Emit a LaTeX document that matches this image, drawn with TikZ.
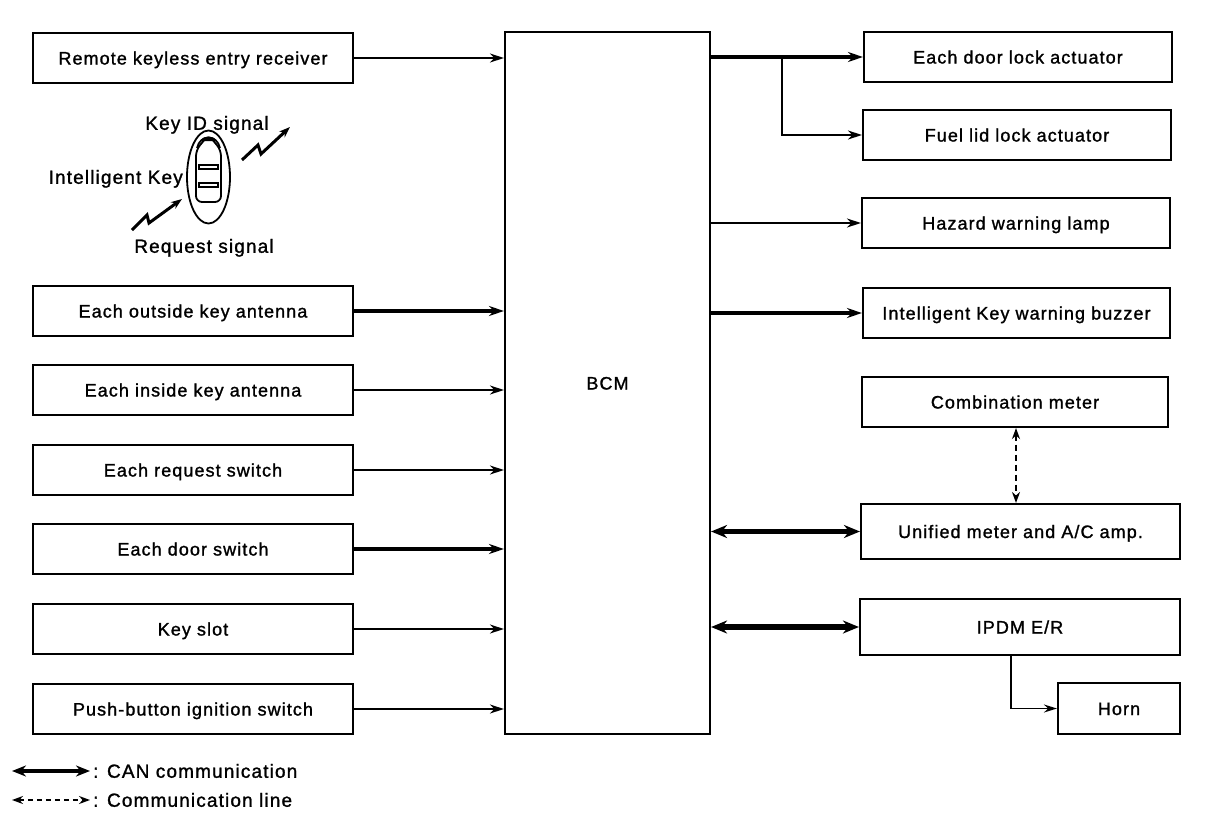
\documentclass[tikz,border=0pt]{standalone}
\usepackage{fontspec}
\setmainfont{Liberation Sans}[LetterSpace=6,FakeBold=1.3]
\usetikzlibrary{arrows.meta}
\begin{document}
\begin{tikzpicture}[x=1pt,y=-1pt,
  box/.style={draw,line width=2.1pt,minimum height=50pt,inner sep=0pt,text height=13pt,text depth=0pt,font=\fontsize{18}{20}\selectfont},
  lbox/.style={box,minimum width=320pt},
  arr/.style={line width=2pt,-{Stealth[length=14pt,width=9pt]}},
  tarr/.style={line width=3.4pt,-{Stealth[length=15pt,width=10pt]}},
  harr/.style={line width=1.3pt,-{Stealth[length=13pt,width=8pt]}},
  can/.style={line width=5.5pt,{Stealth[length=16pt,width=13pt]}-{Stealth[length=16pt,width=13pt]}},
  dasharr/.style={line width=2pt,dash pattern=on 6pt off 4pt,{Stealth[length=11pt,width=8pt]}-{Stealth[length=11pt,width=8pt]}},
  lbl/.style={font=\fontsize{19}{21}\selectfont,inner sep=0pt,text height=13.5pt,text depth=0pt}
]
\useasboundingbox (0,0) rectangle (1216,822);
% left column
\node[lbox] (rke) at (193,58) {Remote keyless entry receiver};
\node[lbox] (oka) at (193,311) {Each outside key antenna};
\node[lbox] (ika) at (193,390) {Each inside key antenna};
\node[lbox] (rsw) at (193,470) {Each request switch};
\node[lbox] (dsw) at (193,549) {Each door switch};
\node[lbox] (ksl) at (193,629) {Key slot};
\node[lbox] (pbs) at (193,709) {Push-button ignition switch};
% BCM
\node[box,minimum width=205pt,minimum height=702pt] (bcm) at (607.5,383) {BCM};
% right column
\node[box,minimum width=308pt] (dla) at (1018,57) {Each door lock actuator};
\node[box,minimum width=308pt] (fla) at (1017,135) {Fuel lid lock actuator};
\node[box,minimum width=308pt] (hwl) at (1016,223) {Hazard warning lamp};
\node[box,minimum width=307pt] (ikb) at (1016.5,313) {Intelligent Key warning buzzer};
\node[box,minimum width=306pt] (cmb) at (1015,402) {Combination meter};
\node[box,minimum width=319pt,minimum height=55pt] (umc) at (1020.5,531.5) {Unified meter and A/C amp.};
\node[box,minimum width=320pt,minimum height=56pt] (ipdm) at (1020,627) {IPDM E/R};
\node[box,minimum width=122pt,minimum height=51pt] (horn) at (1119,708.5) {Horn};
% key icon
\node[lbl] (kid) at (207,123) {Key ID signal};
\node[lbl,anchor=east] (ikey) at (183,177) {Intelligent Key};
\node[lbl] (req) at (204,246) {Request signal};
\draw[line width=1.8pt] (208.5,177) ellipse (21.5 and 46.5);
\draw[line width=1.8pt,rounded corners=6pt] (196,150) -- (196,202) -- (221,202) -- (221,150) -- (208.5,135) -- cycle;
\draw[line width=1.8pt] (197,148) .. controls (200,134) and (217,134) .. (220,148);
\fill (200,141) .. controls (204,135) and (213,135) .. (217,141) -- cycle;
\draw[line width=1.4pt] (199,165) rectangle (218,169);
\draw[line width=1.4pt] (199,183) rectangle (218,187);
\coordinate (z1a) at (242,160);
\coordinate (z1b) at (258,145);
\coordinate (z1c) at (261,154);
\coordinate (z1d) at (290,127);
\draw[line width=3pt,-{Stealth[length=11pt,width=8pt]}] (z1a) -- (z1b) -- (z1c) -- (z1d);
\coordinate (z2a) at (132,230);
\coordinate (z2b) at (147,215);
\coordinate (z2c) at (149,223);
\coordinate (z2d) at (182,199);
\draw[line width=3pt,-{Stealth[length=11pt,width=8pt]}] (z2a) -- (z2b) -- (z2c) -- (z2d);
% left connectors
\draw[arr] (rke.east) -- (bcm.west |- rke.east);
\draw[tarr] (oka.east) -- (bcm.west |- oka.east);
\draw[arr] (ika.east) -- (bcm.west |- ika.east);
\draw[arr] (rsw.east) -- (bcm.west |- rsw.east);
\draw[tarr] (dsw.east) -- (bcm.west |- dsw.east);
\draw[arr] (ksl.east) -- (bcm.west |- ksl.east);
\draw[arr] (pbs.east) -- (bcm.west |- pbs.east);
% right connectors
\draw[tarr] (bcm.east |- dla.west) -- (dla.west);
\coordinate (br) at (782,57);
\draw[arr] (br) |- (fla.west);
\draw[arr] (bcm.east |- hwl.west) -- (hwl.west);
\draw[tarr] (bcm.east |- ikb.west) -- (ikb.west);
\draw[dasharr] ([xshift=1pt]cmb.south) -- ([xshift=1pt]cmb.south |- umc.north);
\draw[can] (bcm.east |- umc.west) -- (umc.west);
\draw[can] (bcm.east |- ipdm.west) -- (ipdm.west);
\draw[harr] ([xshift=-9pt]ipdm.south) |- (horn.west);
% legend
\coordinate (l1a) at (12,771);
\coordinate (l1b) at (90,771);
\coordinate (l2a) at (12,800);
\coordinate (l2b) at (90,800);
\draw[line width=3.5pt,{Stealth[length=14pt,width=11pt]}-{Stealth[length=14pt,width=11pt]}] (l1a) -- (l1b);
\draw[line width=1.6pt,dash pattern=on 5pt off 4pt,{Stealth[length=11pt,width=8pt]}-{Stealth[length=11pt,width=8pt]}] (l2a) -- (l2b);
\node[lbl,anchor=west] (lt1) at (93,771) {: CAN communication};
\node[lbl,anchor=west] (lt2) at (93,800) {: Communication line};
\end{tikzpicture}
\end{document}
